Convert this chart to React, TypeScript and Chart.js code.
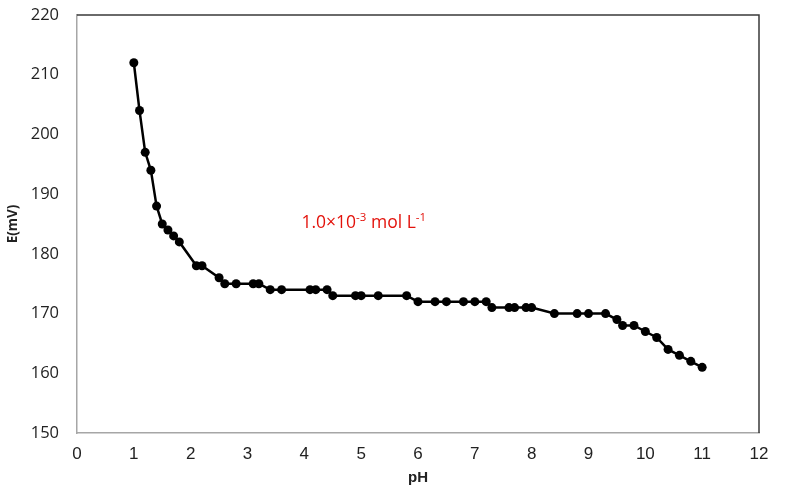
import React, { useEffect, useRef } from "react";
import { Chart, registerables } from "chart.js";

Chart.register(...registerables);

// Potential vs pH readings
const phValues = [
  1.0, 1.1, 1.2, 1.3, 1.4, 1.5, 1.6, 1.7, 1.8, 2.1, 2.2, 2.5, 2.6, 2.8, 3.1, 3.2,
  3.4, 3.6, 4.1, 4.2, 4.4, 4.5, 4.9, 5.0, 5.3, 5.8, 6.0, 6.3, 6.5, 6.8, 7.0, 7.2,
  7.3, 7.6, 7.7, 7.9, 8.0, 8.4, 8.8, 9.0, 9.3, 9.5, 9.6, 9.8, 10.0, 10.2, 10.4,
  10.6, 10.8, 11.0,
];
const potentialMv = [
  212, 204, 197, 194, 188, 185, 184, 183, 182, 178, 178, 176, 175, 175, 175, 175,
  174, 174, 174, 174, 174, 173, 173, 173, 173, 173, 172, 172, 172, 172, 172, 172,
  171, 171, 171, 171, 171, 170, 170, 170, 170, 169, 168, 168, 167, 166, 164,
  163, 162, 161,
];
const xTicks = [0, 1, 2, 3, 4, 5, 6, 7, 8, 9, 10, 11, 12];
const yTicks = [150, 160, 170, 180, 190, 200, 210, 220];

// Concentration label: [base, superscript] pieces and its anchor in data units
const labelParts: [string, string][] = [
  ["1.0×10", "-3"],
  [" mol L", "-1"],
];
const labelAnchor = { x: 3.95, y: 185.3 };

const frameAndLabel = {
  id: "frameAndLabel",
  afterDraw(chart: any) {
    const { ctx, chartArea, scales } = chart;
    ctx.save();
    // top and right edges of the plot frame
    ctx.strokeStyle = "#3a3a3a";
    ctx.lineWidth = 1.5;
    ctx.beginPath();
    ctx.moveTo(chartArea.left, chartArea.top);
    ctx.lineTo(chartArea.right, chartArea.top);
    ctx.lineTo(chartArea.right, chartArea.bottom);
    ctx.stroke();

    // concentration label with superscripts
    let x = scales.x.getPixelForValue(labelAnchor.x);
    const y = scales.y.getPixelForValue(labelAnchor.y);
    ctx.fillStyle = "#e3120b";
    ctx.textBaseline = "alphabetic";
    ctx.textAlign = "left";
    for (const [base, sup] of labelParts) {
      ctx.font = "17.5px 'Open Sans', 'Liberation Sans', sans-serif";
      ctx.fillText(base, x, y + 6);
      x += ctx.measureText(base).width;
      ctx.font = "11.5px 'Open Sans', 'Liberation Sans', sans-serif";
      ctx.fillText(sup, x, y - 1);
      x += ctx.measureText(sup).width;
    }
    ctx.restore();
  },
};

export default function App() {
  const canvasRef = useRef<HTMLCanvasElement | null>(null);

  useEffect(() => {
    document.body.style.margin = "0";
    const canvas = canvasRef.current;
    if (!canvas) return;
    const chart = new Chart(canvas, {
      type: "scatter",
      data: {
        datasets: [
          {
            data: phValues.map((p, i) => ({ x: p, y: potentialMv[i] })),
            showLine: true,
            borderColor: "#000000",
            backgroundColor: "#000000",
            borderWidth: 2.5,
            pointRadius: 4.5,
            pointBorderWidth: 0,
            pointBackgroundColor: "#000000",
          },
        ],
      },
      options: {
        animation: false,
        responsive: false,
        maintainAspectRatio: false,
        layout: { padding: { left: 0, right: 31, top: 15, bottom: 0 } },
        plugins: { legend: { display: false }, tooltip: { enabled: false } },
        scales: {
          x: {
            type: "linear",
            min: 0,
            max: 12,
            afterBuildTicks: (scale: any) => {
              scale.ticks = xTicks.map((v) => ({ value: v }));
            },
            afterFit: (scale: any) => {
              scale.height = 59;
            },
            grid: { display: false, drawTicks: false },
            border: { display: true, color: "#a6a6a6", width: 1.5 },
            ticks: {
              color: "#222222",
              padding: 11,
              font: { family: "'Liberation Sans Narrow', 'Liberation Sans', sans-serif", size: 17 },
            },
            title: {
              display: true,
              text: "pH",
              color: "#222222",
              padding: { top: 0, bottom: 5 },
              font: { family: "'Liberation Sans Narrow', 'Liberation Sans', sans-serif", size: 15, weight: "bold" },
            },
          },
          y: {
            type: "linear",
            min: 150,
            max: 220,
            afterBuildTicks: (scale: any) => {
              scale.ticks = yTicks.map((v) => ({ value: v }));
            },
            afterFit: (scale: any) => {
              scale.width = 77;
              scale.paddingTop = 0;
              scale.paddingBottom = 0;
            },
            grid: { display: false, drawTicks: false },
            border: { display: true, color: "#a6a6a6", width: 1.5 },
            ticks: {
              color: "#222222",
              padding: 18,
              font: { family: "'Open Sans', 'Liberation Sans', sans-serif", size: 16.5 },
            },
            title: {
              display: true,
              text: "E(mV)",
              color: "#222222",
              padding: { top: 5, bottom: 0 },
              font: { family: "'Open Sans', 'Liberation Sans', sans-serif", size: 13.5, weight: "bold" },
            },
          },
        },
      },
      plugins: [frameAndLabel],
    });
    return () => chart.destroy();
  }, []);

  return (
    <div style={{ position: "relative", width: 790, height: 492, background: "#ffffff" }}>
      <canvas ref={canvasRef} width={790} height={492} style={{ display: "block" }} />
    </div>
  );
}
